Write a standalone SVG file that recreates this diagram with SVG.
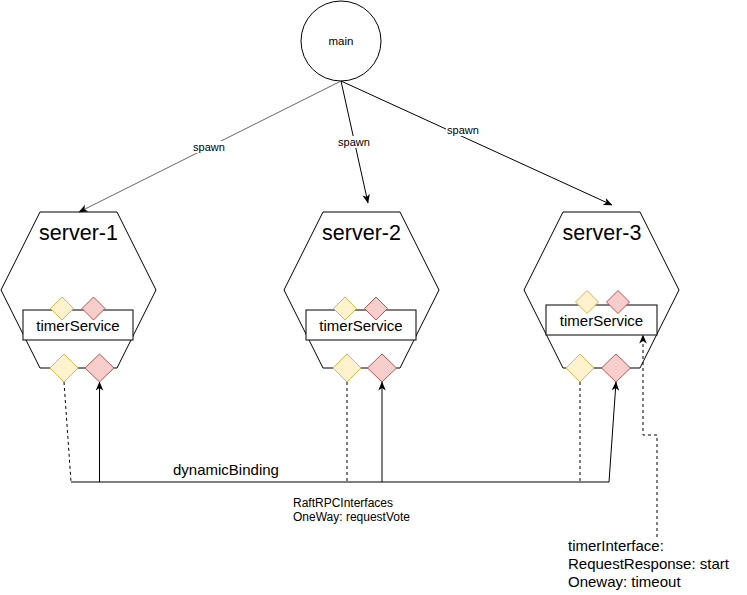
<svg xmlns="http://www.w3.org/2000/svg" width="747" height="595" viewBox="0 0 747 595">
<defs>
<style>
.hex{fill:#ffffff;stroke:#000000;stroke-width:1}
.box{fill:#ffffff;stroke:#000000;stroke-width:1}
.dy{fill:#fff2cc;stroke:#d6b656;stroke-width:1}
.dr{fill:#f8cecc;stroke:#b85450;stroke-width:1}
.t{font-family:"Liberation Sans",Arial,sans-serif;fill:#000000}
.title{font-size:21.5px;text-anchor:middle}
.ts{font-size:15px;text-anchor:middle}
.lbl{font-size:11px;text-anchor:middle}
.ln{fill:none;stroke:#000000;stroke-width:1}
.dash{stroke-dasharray:3 3}
.bg{fill:#ffffff}
</style>
<marker id="arr" viewBox="0 0 10 10" refX="9.5" refY="5" markerWidth="9" markerHeight="9" orient="auto" markerUnits="userSpaceOnUse">
<path d="M0,0.8 L10,5 L0,9.2 L2.8,5 z" fill="#000000"/>
</marker>
<g id="hexshape">
<polygon class="hex" points="40,212 117,212 156,290 117,368 40,368 1,290"/>
</g>
</defs>
<rect width="747" height="595" fill="#ffffff"/>

<g id="main">
<circle cx="341" cy="41" r="40" fill="#ffffff" stroke="#000000"/>
<text class="t" x="341" y="45" font-size="11.5" text-anchor="middle">main</text>
</g>

<g id="server-1">
<use href="#hexshape"/>
<text class="t title" x="78.5" y="240">server-1</text>
<rect class="box" x="23" y="310" width="110" height="30"/>
<text class="t ts" x="78" y="331">timerService</text>
<polygon class="dy" points="62,297 73.5,308.5 62,320 50.5,308.5"/>
<polygon class="dr" points="93.5,297 105,308.5 93.5,320 82,308.5"/>
<polygon class="dy" points="64,354 78,368 64,382 50,368"/>
<polygon class="dr" points="99.5,354 114,368 99.5,382 85,368"/>
</g>

<g id="server-2">
<use href="#hexshape" transform="translate(283,0)"/>
<text class="t title" x="361.5" y="240">server-2</text>
<rect class="box" x="306" y="310" width="110" height="30"/>
<text class="t ts" x="361" y="331">timerService</text>
<polygon class="dy" points="345,297 356.5,308.5 345,320 333.5,308.5"/>
<polygon class="dr" points="376,297 387.5,308.5 376,320 364.5,308.5"/>
<polygon class="dy" points="347,354 361,368 347,382 333,368"/>
<polygon class="dr" points="382,354 396.5,368 382,382 367.5,368"/>
</g>

<g id="server-3">
<use href="#hexshape" transform="translate(523,0)"/>
<text class="t title" x="602" y="240">server-3</text>
<rect class="box" x="546" y="305" width="111" height="30"/>
<text class="t ts" x="601.5" y="326">timerService</text>
<polygon class="dy" points="587,290.5 598.5,302 587,313.5 575.5,302"/>
<polygon class="dr" points="618,290.5 629.5,302 618,313.5 606.5,302"/>
<polygon class="dy" points="580,354 594,368 580,382 566,368"/>
<polygon class="dr" points="616,354 630.5,368 616,382 601.5,368"/>
</g>

<g id="connectors">
<line class="ln" x1="341" y1="81" x2="79" y2="212" stroke="#666666" style="stroke:#666666" marker-end="url(#arr)"/>
<line class="ln" x1="341" y1="81" x2="368" y2="203" marker-end="url(#arr)"/>
<line class="ln" x1="341" y1="81" x2="612" y2="205" marker-end="url(#arr)"/>
<rect class="bg" x="192" y="141" width="34" height="12"/>
<text class="t lbl" x="209" y="151">spawn</text>
<rect class="bg" x="337" y="136" width="34" height="12"/>
<text class="t lbl" x="354" y="146">spawn</text>
<rect class="bg" x="446" y="124" width="34" height="12"/>
<text class="t lbl" x="463" y="134">spawn</text>

<line class="ln dash" x1="64" y1="382" x2="71" y2="482"/>
<line class="ln dash" x1="347" y1="382" x2="347" y2="482"/>
<line class="ln dash" x1="580" y1="382" x2="580" y2="482"/>
<line class="ln" x1="71" y1="482" x2="609" y2="482"/>
<line class="ln" x1="99.5" y1="482" x2="99.5" y2="382" marker-end="url(#arr)"/>
<line class="ln" x1="382" y1="482" x2="382" y2="382" marker-end="url(#arr)"/>
<line class="ln" x1="609" y1="482" x2="616" y2="382" marker-end="url(#arr)"/>
<polyline class="ln dash" points="657,537 657,435 643,435 643,335" marker-end="url(#arr)"/>

<text class="t" x="173" y="475" font-size="15">dynamicBinding</text>
<text class="t" x="293" y="507" font-size="12">RaftRPCInterfaces</text>
<text class="t" x="293" y="521" font-size="12">OneWay: requestVote</text>
<text class="t" x="568" y="551" font-size="15">timerInterface:</text>
<text class="t" x="568" y="569" font-size="15">RequestResponse: start</text>
<text class="t" x="568" y="587" font-size="15">Oneway: timeout</text>
</g>
</svg>
